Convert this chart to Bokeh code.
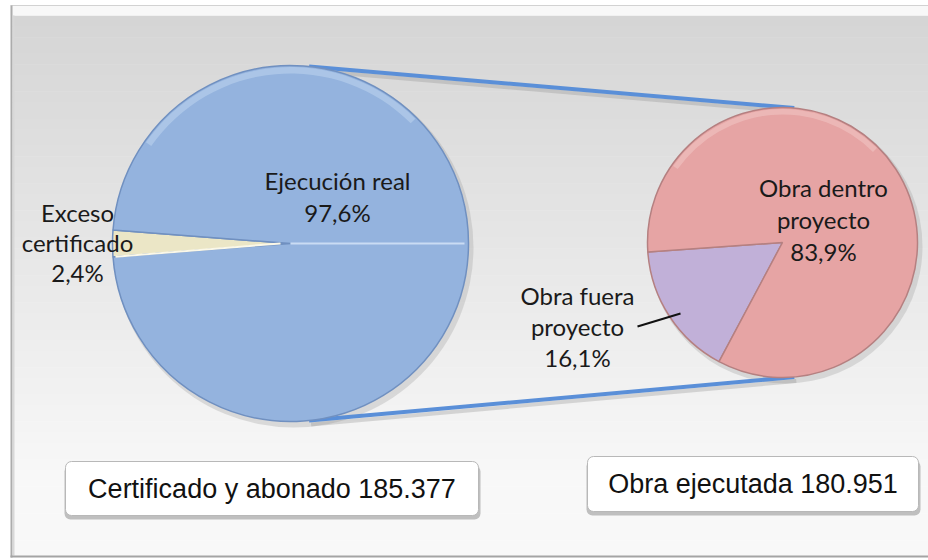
import numpy as np
from bokeh.plotting import figure
from bokeh.models import Range1d, Quad
from bokeh.core.properties import value
from bokeh.embed import file_html
from bokeh.resources import INLINE

# ---------------- data ----------------
main_labels = [["Exceso", "certificado"], ["Ejecución real"]]
main_pct = [2.4, 97.6]
main_colors = ["#ebe6c6", "#94b3de"]
sub_labels = [["Obra fuera", "proyecto"], ["Obra dentro", "proyecto"]]
sub_pct = [16.1, 83.9]
sub_colors = ["#c1b0d8", "#e6a4a4"]
box_texts = ["Certificado y abonado 185.377", "Obra ejecutada 180.951"]

# ---------------- layout (page pixel coordinates) ----------------
W, H = 928, 560


def X(px):
    return px


def Y(py):
    return H - py


p = figure(width=W, height=H, x_range=Range1d(0, W), y_range=Range1d(0, H),
           output_backend="svg", toolbar_location=None, min_border=0)
p.axis.visible = False
p.grid.visible = False
p.outline_line_color = None
p.background_fill_color = "#ffffff"
p.border_fill_color = "#ffffff"

# background panel with vertical gradient
top, bot = 15, 556
n = 100
edges = np.linspace(top, bot, n + 1)
cols = []
for i in range(n):
    t = (edges[i] - top) / (bot - top)
    g = int(round(213 + (248 - 213) * min(1.0, t / 0.85)))
    cols.append("#%02x%02x%02x" % (g, g, g))
p.quad(left=X(12), right=X(940), top=[Y(e) for e in edges[:-1]],
       bottom=[Y(e) - 0.6 for e in edges[1:]], fill_color=cols, line_color=None)
p.quad(left=X(10), right=X(940), top=Y(5), bottom=Y(15), fill_color="#f8f8f8", line_color=None)
p.line([X(10), X(940)], [Y(5), Y(5)], line_color="#d2d2d2", line_width=1)
p.line([X(11), X(11)], [Y(5), Y(557)], line_color="#acacac", line_width=2)
p.line([X(13), X(13)], [Y(15), Y(555)], line_color="#d8d8d8", line_width=2)
p.line([X(10), X(940)], [Y(556), Y(556)], line_color="#a4a4a4", line_width=2)

# ---------------- main pie ----------------
c1 = (X(290), Y(243))
R1 = 178
a0 = 180 - main_pct[0] * 3.6 / 2
starts1, ends1 = [], []
a = a0
for v in main_pct:
    starts1.append(np.radians(a))
    a += v * 3.6
    ends1.append(np.radians(a))

# ---------------- secondary pie ----------------
c2 = (X(782), Y(242))
R2 = 135
b0 = 184
starts2, ends2 = [], []
b = b0
for v in sub_pct:
    starts2.append(np.radians(b))
    b += v * 3.6
    ends2.append(np.radians(b))

# shadows
p.circle(x=[c1[0] + 3, c2[0] + 3], y=[c1[1] - 4, c2[1] - 4], radius=[R1 + 2, R2 + 2],
         fill_color="#9a9a9a", fill_alpha=0.3, line_color=None)

# connector lines (from pie geometry)
ang_big, ang_small = 84, 85
for s in (1, -1):
    xa = c1[0] + R1 * np.cos(np.radians(s * ang_big))
    ya = c1[1] + R1 * np.sin(np.radians(s * ang_big))
    xb = c2[0] + R2 * np.cos(np.radians(s * ang_small))
    yb = c2[1] + R2 * np.sin(np.radians(s * ang_small))
    p.line([xa + 2, xb + 2], [ya - 4, yb - 4], line_color="#8c8c8c", line_width=4, line_alpha=0.3)
    p.line([xa, xb], [ya, yb], line_color="#5a8fd8", line_width=4)

p.wedge(x=c1[0], y=c1[1], radius=R1, start_angle=starts1, end_angle=ends1,
        fill_color=main_colors, line_color="#7090c0", line_width=1.5)
p.wedge(x=c2[0], y=c2[1], radius=R2, start_angle=starts2, end_angle=ends2,
        fill_color=sub_colors, line_color="#b58081", line_width=1.5)

# bevel highlights
p.annular_wedge(x=c1[0], y=c1[1], inner_radius=R1 - 8, outer_radius=R1 - 1.5,
                start_angle=np.radians(45), end_angle=np.radians(145),
                fill_color="#cde0f6", fill_alpha=0.4, line_color=None)
p.annular_wedge(x=c2[0], y=c2[1], inner_radius=R2 - 7, outer_radius=R2 - 1.5,
                start_angle=np.radians(45), end_angle=np.radians(145),
                fill_color="#f6d4d3", fill_alpha=0.4, line_color=None)
p.line([c1[0], c1[0] + R1 - 4], [c1[1], c1[1]], line_color="#cadcf3", line_width=2)
p.line([c1[0] - R1 + 3, c1[0] - 10],
       [c1[1] + (R1 - 3) * np.sin(starts1[0] - np.pi), c1[1]], line_color="#fbf8e8", line_width=2)

# ---------------- labels ----------------
FONT = value("Lato")


def pct(v):
    return f"{v:.1f}".replace(".", ",") + "%"


def block(lines, cx, y0, dy):
    ys = [Y(y0 + i * dy) for i in range(len(lines))]
    p.text(x=[X(cx)] * len(lines), y=ys, text=lines, text_font=FONT,
           text_font_size="24px", text_align="center", text_baseline="middle",
           text_color="#1a1a1a")


block(main_labels[0] + [pct(main_pct[0])], 77, 212, 30)
block(main_labels[1] + [pct(main_pct[1])], 337, 180, 32)
block(sub_labels[0] + [pct(sub_pct[0])], 577, 295, 31)
block(sub_labels[1] + [pct(sub_pct[1])], 823, 187, 32)
p.line([X(637), X(680)], [Y(326), Y(313)], line_color="#111111", line_width=2)

# ---------------- text boxes ----------------
boxes = [(65, 478, 461, 515), (587, 918, 456, 511)]
kw = {"border_radius": 6} if "border_radius" in Quad.properties() else {}
for (l, r, t, bt), txt in zip(boxes, box_texts):
    p.quad(left=X(l) - 1, right=X(r) + 2, top=Y(t) - 4, bottom=Y(bt) - 4,
           fill_color="#7a7a7a", fill_alpha=0.45, line_color=None, **kw)
    p.quad(left=X(l), right=X(r), top=Y(t), bottom=Y(bt),
           fill_color="#ffffff", line_color="#b8b8b8", line_width=1, **kw)
    p.text(x=[X((l + r) / 2)], y=[Y((t + bt) / 2)], text=[txt],
           text_font=value("Liberation Sans"), text_font_size="27px",
           text_align="center", text_baseline="middle", text_color="#111111")

open("out.html", "w").write(file_html(p, INLINE))
